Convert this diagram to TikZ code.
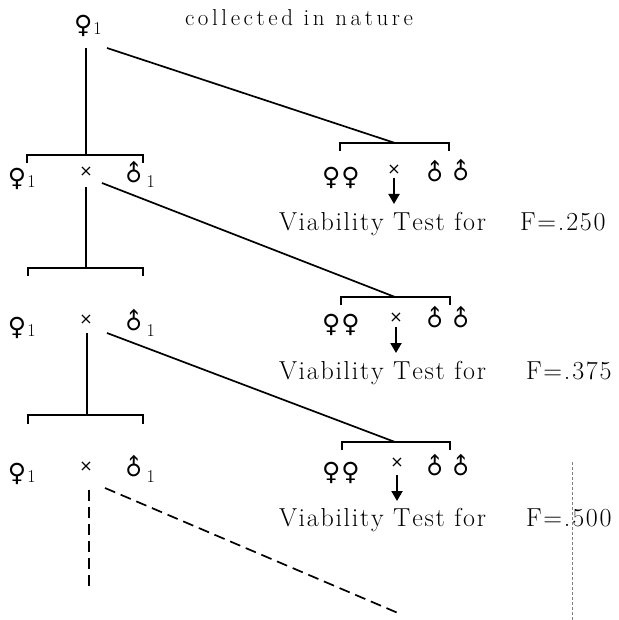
\documentclass[tikz,border=0pt]{standalone}
\usepackage{fontspec}
\newfontfamily\symfont{DejaVu Sans}
\usetikzlibrary{arrows.meta}
\makeatletter
\newcommand\lsp[2]{\def\lsp@k{#1}\@tfor\lsp@c:=#2\do{\lsp@c\kern\lsp@k}}
\makeatother
\newcommand\fsym{{\symfont\fontsize{25}{25}\selectfont ♀}}
\newcommand\msym{\raisebox{1pt}{\rotatebox{45}{\symfont\fontsize{23}{23}\selectfont ♂}}}
\newcommand\subone{\kern1pt\raisebox{-1pt}{\fontsize{18}{18}\selectfont 1}}
\newcommand\msubone{\kern-1pt\raisebox{-1pt}{\fontsize{18}{18}\selectfont 1}}
\newcommand\vtline{\lsp{1.7pt}{Viability}\ \lsp{1.7pt}{Test}\ \lsp{1.7pt}{for}}
\begin{document}
\begin{tikzpicture}[x=1pt,y=-1pt,
  every node/.style={inner sep=0pt, outer sep=0pt},
  conn/.style={line width=1.7pt},
  brk/.style={line width=1.3pt},
  dconn/.style={line width=1.7pt, dash pattern=on 11pt off 6pt},
  crossmark/.style={font=\symfont\fontsize{16}{16}\selectfont},
  vtext/.style={anchor=base west, font=\fontsize{26}{26}\selectfont},
  ftext/.style={anchor=base west, font=\fontsize{26}{26}\selectfont},
  down/.style={line width=2pt, -{Triangle[length=10pt,width=11pt]}}
]
\useasboundingbox (0,0) rectangle (618,620);

% title
\node[anchor=base west, font=\fontsize{23}{23}\selectfont] (title) at (185,26) {\lsp{3.6pt}{collected}\ \lsp{3.6pt}{in}\ \lsp{3.6pt}{nature}};

% top female
\node[anchor=base west] (f0) at (74,34) {\fsym\subone};

% ---------- left column ----------
\foreach \r/\y/\yx in {1/187/172, 2/335/320, 3/481/467}{
  \node[anchor=base west] (f\r) at (8,\y) {\fsym\subone};
  \node[crossmark] (x\r) at (86,\yx) {×};
  \node[anchor=base west] (m\r) at (121,\y) {\msym\msubone};
}

% brackets left
\coordinate (bl1) at (86,155);
\coordinate (bl2) at (86,268);
\coordinate (bl3) at (87,415);
\draw[brk] (27,163) -- (27,155) -- (143,155) -- (143,163);
\draw[brk] (28,276) -- (28,268) -- (143,268) -- (143,276);
\draw[brk] (28,424) -- (28,415) -- (143,415) -- (143,424);

% vertical connectors
\coordinate (v0) at (86,48);
\coordinate (v1) at (86,187);
\coordinate (v2) at (87,333);
\coordinate (v3) at (89,490);
\coordinate (v3e) at (89,588);
\draw[conn] (v0) -- (bl1);
\draw[conn] (v1) -- (bl2);
\draw[conn] (v2) -- (bl3);
\draw[dconn] (v3) -- (v3e);

% ---------- right column ----------
\coordinate (br1) at (395,143);
\coordinate (br2) at (395,297);
\coordinate (br3) at (395,442);
\draw[brk] (340,151) -- (340,143) -- (449,143) -- (449,151);
\draw[brk] (341,305) -- (341,297) -- (450,297) -- (450,305);
\draw[brk] (342,450) -- (342,442) -- (450,442) -- (450,450);

% diagonal connectors
\coordinate (d0) at (107,48);
\coordinate (d1) at (102,183);
\coordinate (d2) at (107,333);
\coordinate (d3) at (105,488);
\coordinate (d3e) at (398,613);
\draw[conn] (d0) -- (br1);
\draw[conn] (d1) -- (br2);
\draw[conn] (d2) -- (br3);
\draw[dconn] (d3) -- (d3e);

% right offspring rows
\foreach \r/\y/\yx/\xx/\ys/\ye/\yb in {1/186/170/394/178/204/230, 2/332/318/396/327/353/379, 3/480/463/397/475/501/526}{
  \node[anchor=base] (ff\r) at (341,\y) {\fsym\kern1pt\fsym};
  \node[crossmark] (xx\r) at (\xx,\yx) {×};
  \node[anchor=base] (mm\r) at (448,\y) {\msym\kern-1pt\msym};
  \coordinate (as\r) at (\xx,\ys);
  \coordinate (ae\r) at (\xx,\ye);
  \draw[down] (as\r) -- (ae\r);
  \node[vtext] (vt\r) at (279,\yb) {\vtline};
}
\node[ftext] (F1) at (520,230) {\lsp{1.8pt}{F=.250}};
\node[ftext] (F2) at (526,379) {\lsp{1.8pt}{F=.375}};
\node[ftext] (F3) at (526,526) {\lsp{1.8pt}{F=.500}};

% faint vertical mark at right
\coordinate (p1) at (572,462);
\coordinate (p2) at (572,620);
\draw[line width=0.6pt, gray, dash pattern=on 3pt off 2pt] (p1) -- (p2);
\end{tikzpicture}
\end{document}
